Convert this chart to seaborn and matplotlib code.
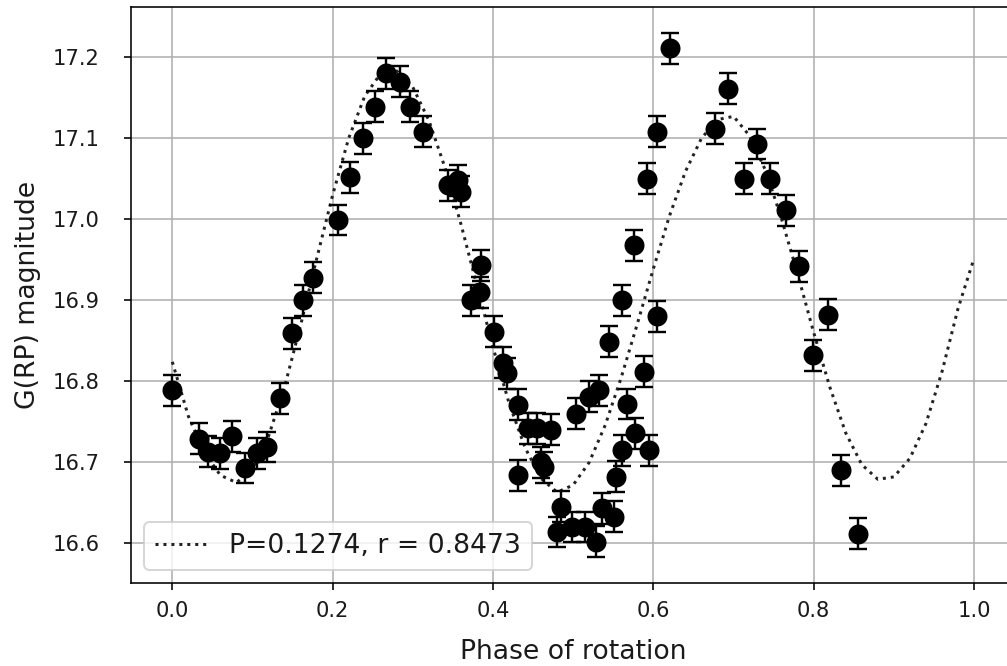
import numpy as np
import pandas as pd
import matplotlib
matplotlib.use("Agg")
import matplotlib.pyplot as plt
import seaborn as sns

# ---- data ----
phase = [0.000, 0.033, 0.045, 0.060, 0.0745, 0.091, 0.1056, 0.118, 0.1345, 0.149,
         0.1635, 0.176, 0.207, 0.2215, 0.238, 0.2525, 0.267, 0.2836, 0.296, 0.3126,
         0.344, 0.356, 0.360, 0.373, 0.384, 0.385, 0.4016, 0.413, 0.417, 0.4306,
         0.4306, 0.444, 0.455, 0.460, 0.463, 0.472, 0.480, 0.4845, 0.499, 0.503,
         0.515, 0.5196, 0.528, 0.532, 0.536, 0.5445, 0.551, 0.553, 0.561, 0.561,
         0.567, 0.5755, 0.5776, 0.588, 0.592, 0.594, 0.6045, 0.6045, 0.621, 0.677,
         0.6935, 0.7127, 0.7295, 0.745, 0.766, 0.7817, 0.799, 0.8177, 0.834, 0.855]
mag = [16.789, 16.729, 16.713, 16.711, 16.732, 16.693, 16.711, 16.719, 16.779, 16.859,
       16.900, 16.928, 16.999, 17.052, 17.100, 17.139, 17.180, 17.170, 17.139, 17.108,
       17.042, 17.048, 17.034, 16.900, 16.910, 16.943, 16.861, 16.823, 16.810, 16.771,
       16.684, 16.742, 16.742, 16.700, 16.694, 16.740, 16.614, 16.645, 16.620, 16.760,
       16.620, 16.781, 16.602, 16.789, 16.643, 16.849, 16.633, 16.682, 16.900, 16.715,
       16.772, 16.968, 16.736, 16.812, 17.050, 16.715, 17.108, 16.880, 17.211, 17.112,
       17.161, 17.050, 17.093, 17.050, 17.011, 16.942, 16.832, 16.882, 16.690, 16.612]
mag_err = [0.019] * len(phase)

# fitted curve
curve_phase = [0.00, 0.02, 0.04, 0.06, 0.08, 0.10, 0.12, 0.14, 0.16, 0.18,
               0.20, 0.22, 0.24, 0.26, 0.28, 0.30, 0.32, 0.34, 0.36, 0.38,
               0.40, 0.42, 0.44, 0.46, 0.48, 0.50, 0.52, 0.54, 0.56, 0.58,
               0.60, 0.62, 0.64, 0.66, 0.68, 0.70, 0.72, 0.74, 0.76, 0.78,
               0.80, 0.82, 0.84, 0.86, 0.88, 0.90, 0.92, 0.94, 0.96, 0.98, 1.00]
curve_mag = [16.824, 16.757, 16.712, 16.684, 16.675, 16.691, 16.732, 16.793, 16.869, 16.951,
             17.030, 17.100, 17.152, 17.180, 17.183, 17.163, 17.122, 17.064, 16.994, 16.918,
             16.842, 16.773, 16.718, 16.680, 16.663, 16.672, 16.700, 16.746, 16.805, 16.871,
             16.939, 17.004, 17.059, 17.100, 17.123, 17.127, 17.103, 17.060, 17.000, 16.932,
             16.860, 16.793, 16.736, 16.697, 16.679, 16.682, 16.705, 16.748, 16.812, 16.890,
             16.952]
legend_label = "P=0.1274, r = 0.8473"
x_label = "Phase of rotation"
y_label = "G(RP) magnitude"
x_ticks = [0.0, 0.2, 0.4, 0.6, 0.8, 1.0]
y_ticks = [16.6, 16.7, 16.8, 16.9, 17.0, 17.1, 17.2]

points = pd.DataFrame({"phase": phase, "mag": mag, "err": mag_err})
curve = pd.DataFrame({"phase": curve_phase, "mag": curve_mag})

sns.set_style("ticks", {"axes.grid": True, "grid.color": "#b0b0b0",
                        "axes.edgecolor": "black", "xtick.color": "black",
                        "ytick.color": "black", "axes.labelcolor": "#1a1a1a",
                        "text.color": "#1a1a1a",
                        "xtick.direction": "out", "ytick.direction": "out"})
plt.rcParams["font.family"] = ["DejaVu Sans"]
plt.rcParams["grid.linewidth"] = 0.8

dpi = 144
fig = plt.figure(figsize=(1007 / dpi, 666 / dpi), dpi=dpi)
ax = fig.add_axes([131 / 1007, 1 - 583 / 666, (1015 - 131) / 1007, (583 - 7) / 666])

sns.lineplot(data=curve, x="phase", y="mag", ax=ax, color="#222222",
             linestyle=":", linewidth=1.5, label=legend_label, zorder=2)
ax.errorbar(points["phase"], points["mag"], yerr=points["err"], fmt="none",
            ecolor="black", elinewidth=1.2, capsize=4.5, capthick=1.2, zorder=3)
sns.scatterplot(data=points, x="phase", y="mag", ax=ax, color="black",
                s=100, edgecolor="black", linewidth=0, zorder=4, legend=False)

ax.set_xlim(-0.0515, 1.051)
ax.set_ylim(16.551, 17.262)
ax.set_xticks(x_ticks)
ax.set_yticks(y_ticks)
ax.tick_params(labelsize=10.5, length=3.5, width=0.8, labelcolor="#1a1a1a")
ax.tick_params(axis="x", pad=5.5)
ax.tick_params(axis="y", pad=12)
ax.set_xlabel(x_label, fontsize=13.3, labelpad=9)
ax.set_ylabel(y_label, fontsize=13.3, labelpad=6)
for s in ax.spines.values():
    s.set_linewidth(0.8)
    s.set_color("black")

leg = ax.legend(loc="lower left", fontsize=13.3, frameon=True, fancybox=True,
                framealpha=0.8, edgecolor="#cccccc")

fig.savefig("out.png", dpi=dpi)
